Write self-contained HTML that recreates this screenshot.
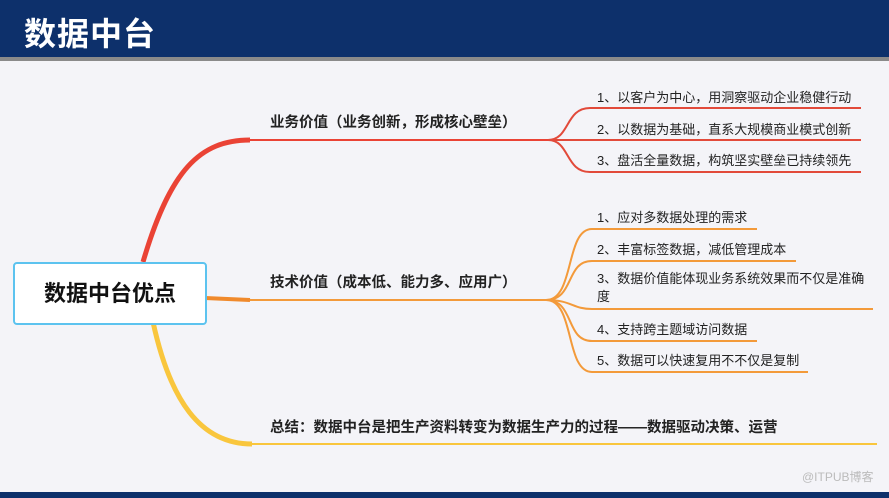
<!DOCTYPE html>
<html><head><meta charset="utf-8"><style>
body{margin:0;width:889px;height:498px;overflow:hidden;background:#f4f4f8;font-family:"Liberation Sans","Noto Sans CJK SC",sans-serif;position:relative}
.hdr{position:absolute;left:0;top:0;width:889px;height:57px;background:#0d306b}
.hdr span{position:absolute;left:24px;top:9px;color:#fff;font-size:32px;font-weight:bold;letter-spacing:1px}
.gl{position:absolute;left:0;top:57px;width:889px;height:4px;background:#8a8a8a}
.bot{position:absolute;left:0;top:492px;width:889px;height:6px;background:#0d306b}
.t{position:absolute;color:#222;white-space:nowrap;font-size:13px}
.b{font-size:14.5px;font-weight:bold;color:#222}
.box{position:absolute;left:13px;top:262px;width:190px;height:59px;border:2px solid #5cc3ef;border-radius:4px;background:#fff;text-align:center;line-height:59px;font-size:22px;font-weight:bold;color:#111}
</style></head><body>
<div class="hdr"><span>数据中台</span></div><div class="gl"></div>
<svg width="889" height="498" style="position:absolute;left:0;top:0">
<path d="M143 262 C170 170 200 140 250 140" stroke="#ea4335" stroke-width="5" fill="none"/>
<path d="M250 140 L552 140" stroke="#ea4335" stroke-width="2" fill="none"/>
<g stroke="#e24a3a" stroke-width="2" fill="none">
<path d="M548 140 C570 140 565 108 590 108 L861 108"/>
<path d="M548 140 L861 140"/>
<path d="M548 140 C570 140 565 172 590 172 L861 172"/>
</g>
<path d="M205 298 L250 300" stroke="#f08a2c" stroke-width="4" fill="none"/>
<path d="M250 300 L546 300" stroke="#f39a3a" stroke-width="2" fill="none"/>
<g stroke="#f39a3a" stroke-width="2" fill="none">
<path d="M546 300 C575 300 565 229 592 229 L757 229"/>
<path d="M546 300 C575 300 565 261 592 261 L796 261"/>
<path d="M546 300 C572 300 572 309 592 309 L873 309"/>
<path d="M546 300 C575 300 565 341 592 341 L757 341"/>
<path d="M546 300 C575 300 565 372 592 372 L808 372"/>
</g>
<path d="M153 322 C170 400 200 444 252 444" stroke="#f9c63d" stroke-width="5" fill="none"/>
<path d="M250 444 L877 444" stroke="#f9c63d" stroke-width="2" fill="none"/>
</svg>
<div class="box">数据中台优点</div>
<div class="t b" style="left:270px;top:111px">业务价值（业务创新，形成核心壁垒）</div>
<div class="t b" style="left:270px;top:271px">技术价值（成本低、能力多、应用广）</div>
<div class="t b" style="left:270px;top:416px">总结：数据中台是把生产资料转变为数据生产力的过程——数据驱动决策、运营</div>
<div class="t" style="left:597px;top:87px">1、以客户为中心，用洞察驱动企业稳健行动</div>
<div class="t" style="left:597px;top:119px">2、以数据为基础，直系大规模商业模式创新</div>
<div class="t" style="left:597px;top:150px">3、盘活全量数据，构筑坚实壁垒已持续领先</div>
<div class="t" style="left:597px;top:207px">1、应对多数据处理的需求</div>
<div class="t" style="left:597px;top:239px">2、丰富标签数据，减低管理成本</div>
<div class="t" style="left:597px;top:270px;line-height:18px">3、数据价值能体现业务系统效果而不仅是准确<br>度</div>
<div class="t" style="left:597px;top:319px">4、支持跨主题域访问数据</div>
<div class="t" style="left:597px;top:350px">5、数据可以快速复用不不仅是复制</div>
<div class="t" style="left:802px;top:468px;color:#bbb;font-size:12px">@ITPUB博客</div>
<div class="bot"></div>
</body></html>
